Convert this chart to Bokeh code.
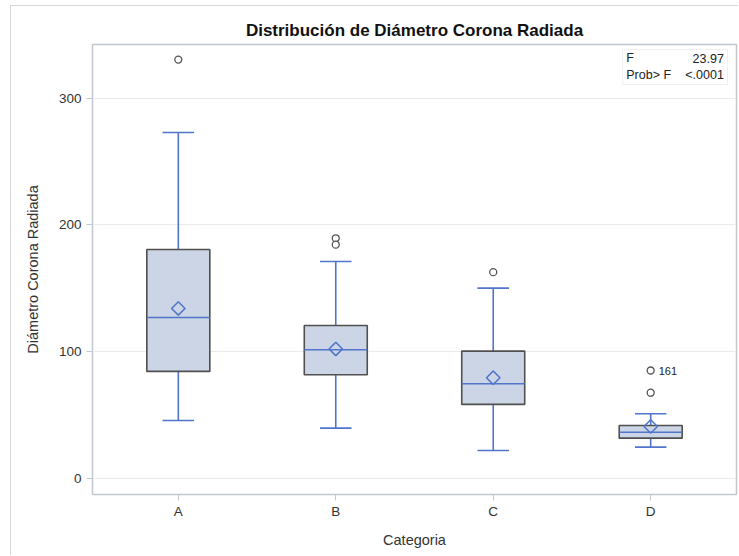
from bokeh.plotting import figure
from bokeh.models import FixedTicker, BoxAnnotation, Label, Range1d, ColumnDataSource
from bokeh.core.properties import value
from bokeh.embed import file_html
from bokeh.resources import INLINE

# ---- data ----
categories = ["A", "B", "C", "D"]
q1 = [84.6, 82.0, 58.6, 32.0]
median = [127.1, 101.7, 74.9, 36.7]
q3 = [180.7, 120.8, 100.6, 42.0]
mean = [134.2, 102.3, 79.6, 41.2]
whisker_low = [45.9, 39.9, 22.3, 24.9]
whisker_high = [272.9, 171.2, 150.2, 51.2]
outlier_cat = ["A", "B", "B", "C", "D", "D"]
outlier_val = [330.3, 189.5, 184.5, 162.8, 85.3, 67.8]
outlier_label = ["", "", "", "", "161", ""]
y_ticks = [0, 100, 200, 300]
f_value = "23.97"
p_value = "<.0001"

FONT = "Liberation Sans"
BLUE = "#5175cb"
BOX_FILL = "#cbd5e5"
BOX_LINE = "#505050"
FRAME = "#c3c8ce"

xi = list(range(len(categories)))
box_w = 0.40
cap_w = 0.20

p = figure(
    width=728, height=550,
    output_backend="svg", toolbar_location=None,
    x_range=Range1d(-0.545, 3.545), y_range=Range1d(-12.4, 342.2),
    min_border_left=81, min_border_right=3, min_border_top=38, min_border_bottom=62,
    title="Distribución de Diámetro Corona Radiada",
)
p.styles = {"border-left": "1px solid #d6d6d6", "border-top": "1px solid #d6d6d6",
            "margin-left": "10px", "margin-top": "5px"}

p.title.align = "center"
p.title.text_font = FONT
p.title.text_font_size = "17px"
p.title.text_font_style = "bold"
p.title.text_color = "#111111"

p.outline_line_color = FRAME
p.outline_line_width = 1.5
p.background_fill_color = "white"
p.border_fill_color = "white"

p.xgrid.grid_line_color = None
p.ygrid.grid_line_color = "#ebebeb"
p.ygrid.grid_line_width = 1

p.xaxis.ticker = FixedTicker(ticks=xi)
p.xaxis.major_label_overrides = {i: c for i, c in zip(xi, categories)}
p.yaxis.ticker = FixedTicker(ticks=y_ticks)

for ax in (p.xaxis[0], p.yaxis[0]):
    ax.axis_line_color = FRAME
    ax.major_tick_line_color = FRAME
    ax.major_tick_out = 6
    ax.major_tick_in = 0
    ax.minor_tick_line_color = None
    ax.major_label_text_font = FONT
    ax.major_label_text_font_size = "13.5px"
    ax.major_label_text_color = "#333333"
    ax.axis_label_text_font = FONT
    ax.axis_label_text_font_size = "14.5px"
    ax.axis_label_text_font_style = "normal"
    ax.axis_label_text_color = "#333333"

p.xaxis.major_label_standoff = 3
p.yaxis.major_label_standoff = 5
p.xaxis.axis_label = "Categoria"
p.yaxis.axis_label = "Diámetro Corona Radiada"
p.xaxis.axis_label_standoff = 10
p.yaxis.axis_label_standoff = 15

src = ColumnDataSource(dict(
    x=xi, q1=q1, med=median, q3=q3, mean=mean, lo=whisker_low, hi=whisker_high,
    x0=[x - box_w / 2 for x in xi], x1=[x + box_w / 2 for x in xi],
    c0=[x - cap_w / 2 for x in xi], c1=[x + cap_w / 2 for x in xi],
))

# whiskers
p.segment("x", "q3", "x", "hi", source=src, line_color=BLUE, line_width=1.6)
p.segment("x", "q1", "x", "lo", source=src, line_color=BLUE, line_width=1.6)
p.segment("c0", "hi", "c1", "hi", source=src, line_color=BLUE, line_width=1.6)
p.segment("c0", "lo", "c1", "lo", source=src, line_color=BLUE, line_width=1.6)

# boxes
p.vbar(x="x", width=box_w, top="q3", bottom="q1", source=src,
       fill_color=BOX_FILL, line_color=BOX_LINE, line_width=1.6)
# medians
p.segment("x0", "med", "x1", "med", source=src, line_color=BLUE, line_width=1.6)
# means
p.scatter("x", "mean", source=src, marker="square", angle=0.785398, size=9.5,
          fill_alpha=0, line_color=BLUE, line_width=1.6)

# outliers
ox = [categories.index(c) for c in outlier_cat]
osrc = ColumnDataSource(dict(x=ox, y=outlier_val, lab=outlier_label))
p.scatter("x", "y", source=osrc, marker="circle", size=7, fill_color="white",
          line_color="#555555", line_width=1.3)
p.text("x", "y", text="lab", source=osrc, x_offset=8, text_baseline="middle",
       text_font_size="11px", text_color="#222222", text_font=value(FONT))

# inset statistics box
p.add_layout(BoxAnnotation(left=2.822, right=3.488, top=338.3, bottom=310.7,
                           fill_color="white", fill_alpha=1, line_color="#c8c8c8", line_width=1))
for txt, xx, yy, align in [("F", 2.845, 331.4, "left"), (f_value, 3.465, 331.4, "right"),
                           ("Prob> F", 2.845, 318.0, "left"), (p_value, 3.465, 318.0, "right")]:
    p.add_layout(Label(x=xx, y=yy, text=txt, text_align=align, text_baseline="middle",
                       text_font=FONT, text_font_size="12.5px", text_color="#222222"))

open("out.html", "w").write(file_html(p, INLINE))
